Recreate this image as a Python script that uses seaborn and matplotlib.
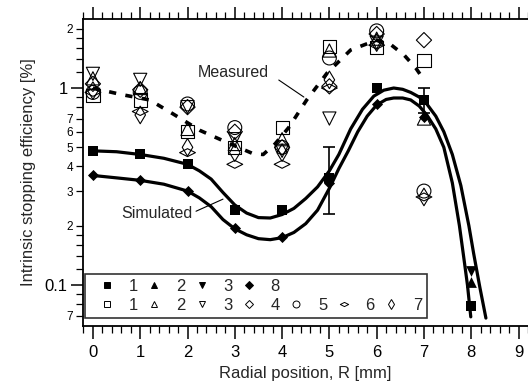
import numpy as np
import pandas as pd
import matplotlib
matplotlib.use("Agg")
import matplotlib.pyplot as plt
import seaborn as sns
from matplotlib.lines import Line2D
from matplotlib.path import Path
from matplotlib.ticker import FixedLocator, FixedFormatter, MultipleLocator

# ---- data -----------------------------------------------------------------
radius = [0, 1, 2, 3, 4, 5, 6, 7]

# measured (open symbols), runs 1..7
meas_1 = [0.92, 0.87, 0.60, 0.50, 0.63, 1.62, 1.60, 1.38]
meas_2 = [1.12, 1.00, 0.62, 0.52, 0.55, 1.55, 1.78, 0.70]
meas_3 = [1.18, 1.10, 0.80, 0.55, 0.48, 0.70, 1.70, np.nan]
meas_4 = [1.05, 0.98, 0.80, 0.60, 0.50, 1.02, 1.88, 1.75]
meas_5 = [0.95, 0.95, 0.83, 0.63, 0.50, 1.42, 1.95, 0.30]
meas_6 = [0.95, 0.76, 0.47, 0.41, 0.41, 1.00, 1.65, 0.28]
meas_7 = [0.97, 0.73, 0.50, 0.47, 0.47, 1.10, 1.70, 0.28]

# simulated (filled symbols)
sim_r = [0, 1, 2, 3, 4, 5, 6, 7, 8]
sim_1 = [0.48, 0.46, 0.41, 0.24, 0.24, 0.35, 1.00, 0.87, 0.078]
sim_8_r = [0, 1, 2, 3, 4, 5, 6, 7]
sim_8 = [0.36, 0.34, 0.30, 0.195, 0.175, 0.33, 0.83, 0.71]
sim_2_r, sim_2 = [8], [0.104]
sim_3_r, sim_3 = [8], [0.118]

# error bars on simulated run 1
err_r = [5, 7]
err_val = [0.35, 0.87]
err_lo = [0.23, 0.75]
err_hi = [0.50, 1.00]

# trend curves
upper_r = [-0.05, 0, 0.5, 1, 1.5, 2, 2.25, 2.5, 2.75, 3.0, 3.25, 3.5, 3.75, 4.0,
           4.25, 4.5, 4.75, 5.0, 5.2, 5.45, 5.7, 5.94, 6.15, 6.36, 6.55, 6.72,
           6.9, 7.06, 7.25, 7.42, 7.6, 7.78, 7.95, 8.05, 8.18, 8.31]
upper_v = [0.48, 0.48, 0.475, 0.46, 0.44, 0.41, 0.38, 0.345, 0.295, 0.255, 0.232,
           0.22, 0.219, 0.228, 0.245, 0.275, 0.315, 0.38, 0.46, 0.62, 0.78, 0.91,
           0.975, 1.0, 0.985, 0.95, 0.90, 0.83, 0.72, 0.60, 0.46, 0.32, 0.20,
           0.145, 0.098, 0.068]
lower_r = [-0.05, 0, 0.5, 1, 1.5, 2, 2.25, 2.5, 2.75, 3.0, 3.25, 3.5, 3.75, 4.0,
           4.25, 4.5, 4.75, 5.0, 5.2, 5.4, 5.6, 5.8, 6.0, 6.2, 6.36, 6.55, 6.72,
           6.9, 7.06, 7.25, 7.42, 7.6, 7.75, 7.84, 7.92, 7.99]
lower_v = [0.36, 0.36, 0.35, 0.34, 0.325, 0.30, 0.277, 0.25, 0.215, 0.193, 0.18,
           0.172, 0.17, 0.174, 0.185, 0.205, 0.24, 0.31, 0.39, 0.48, 0.60, 0.72,
           0.82, 0.875, 0.89, 0.89, 0.87, 0.81, 0.73, 0.62, 0.50, 0.33, 0.20,
           0.139, 0.10, 0.069]
meas_curve_r = [0, 0.57, 1.2, 1.69, 2.26, 2.83, 3.38, 3.6, 3.85, 4.14, 4.52, 4.95,
                5.45, 6.0, 6.3, 6.58, 6.83, 7.0]
meas_curve_v = [1.0, 0.93, 0.87, 0.74, 0.61, 0.53, 0.465, 0.46, 0.52, 0.63, 0.87,
                1.19, 1.56, 1.75, 1.66, 1.47, 1.26, 1.10]

# ---- style ----------------------------------------------------------------
sns.set_theme(style="ticks")
plt.rcParams["font.family"] = ["Liberation Sans", "DejaVu Sans"]
plt.rcParams["axes.linewidth"] = 1.3

fig = plt.figure(figsize=(5.28, 3.89), dpi=100)
ax = fig.add_axes([83 / 528, 1 - 326 / 389, 445 / 528, 307 / 389])
ax.set_yscale("log")

# flat wide diamond for run 6
wide_diamond = Path([(-1, 0), (0, 0.5), (1, 0), (0, -0.5), (-1, 0)],
                    [Path.MOVETO, Path.LINETO, Path.LINETO, Path.LINETO, Path.CLOSEPOLY])

open_series = [
    (meas_1, "s", 90),
    (meas_2, "^", 90),
    (meas_3, "v", 90),
    (meas_4, "D", 60),
    (meas_5, "o", 100),
    (meas_6, wide_diamond, 130),
    (meas_7, "d", 80),
]
for vals, mk, size in open_series:
    sns.scatterplot(x=radius, y=vals, marker=mk, s=size, facecolors="none",
                    edgecolor="black", linewidth=0.8, ax=ax, zorder=3, legend=False)

# curves
sns.lineplot(x=upper_r, y=upper_v, sort=False, estimator=None, color="black",
             lw=2.3, ax=ax, zorder=4)
sns.lineplot(x=lower_r, y=lower_v, sort=False, estimator=None, color="black",
             lw=2.3, ax=ax, zorder=4)
sns.lineplot(x=meas_curve_r, y=meas_curve_v, sort=False, estimator=None,
             color="black", lw=2.6, linestyle=(0, (2.0, 2.6)), ax=ax, zorder=4)

# error bars
ax.errorbar(err_r, err_val,
            yerr=[np.subtract(err_val, err_lo), np.subtract(err_hi, err_val)],
            fmt="none", ecolor="black", elinewidth=1.2, capsize=4, capthick=1.2,
            zorder=5)

# filled symbols
sns.scatterplot(x=sim_r, y=sim_1, marker="s", s=60, color="black", linewidth=0,
                ax=ax, zorder=6, legend=False)
sns.scatterplot(x=sim_8_r, y=sim_8, marker="D", s=32, color="black", linewidth=0,
                ax=ax, zorder=6, legend=False)
sns.scatterplot(x=sim_2_r, y=sim_2, marker="^", s=60, color="black", linewidth=0,
                ax=ax, zorder=6, legend=False)
sns.scatterplot(x=sim_3_r, y=sim_3, marker="v", s=60, color="black", linewidth=0,
                ax=ax, zorder=6, legend=False)

# annotations
ax.text(3.72, 1.2, "Measured", ha="right", va="center", fontsize=11.5)
ax.plot([3.93, 4.46], [1.098, 0.9], color="black", lw=0.8)
ax.text(2.11, 0.232, "Simulated", ha="right", va="center", fontsize=11.5)
ax.plot([2.18, 2.75], [0.237, 0.273], color="black", lw=0.8)

# axes
ax.set_xlim(-0.21, 9.2)
ax.set_ylim(0.062, 2.24)
ax.xaxis.set_major_locator(FixedLocator(range(10)))
ax.xaxis.set_minor_locator(MultipleLocator(0.2))
ax.tick_params(axis="x", which="both", direction="out", top=True, bottom=True,
               labeltop=False, colors="black")
ax.tick_params(axis="x", which="major", length=9, width=1.1, labelsize=12, pad=5)
ax.tick_params(axis="x", which="minor", length=5, width=0.9)

ax.yaxis.set_major_locator(FixedLocator([0.1, 1]))
ax.yaxis.set_major_formatter(FixedFormatter(["0.1", "1"]))
minor_pos = [0.07, 0.08, 0.09, 0.12, 0.14, 0.16, 0.18, 0.2, 0.3, 0.4, 0.5, 0.6,
             0.7, 0.8, 0.9, 1.2, 1.4, 1.6, 1.8, 2.0]
minor_lab = ["7", "", "", "", "", "", "", "2", "3", "4", "5", "6", "7", "", "",
             "", "", "", "", "2"]
ax.yaxis.set_minor_locator(FixedLocator(minor_pos))
ax.yaxis.set_minor_formatter(FixedFormatter(minor_lab))
ax.tick_params(axis="y", which="both", direction="out", left=True, right=False,
               colors="black")
ax.tick_params(axis="y", which="major", length=9, width=1.1, labelsize=12, pad=2)
ax.tick_params(axis="y", which="minor", length=5, width=0.9, labelsize=8.5, pad=2)

ax.spines["right"].set_visible(False)
for s in ("left", "bottom", "top"):
    ax.spines[s].set_color("black")

ax.set_xlabel("Radial position, R [mm]", fontsize=12, labelpad=4)
ax.set_ylabel("Intrinsic stopping efficiency [%]", fontsize=12, labelpad=6)

# legend: filled (simulated) on top row, open (measured) on bottom row
def h(marker, filled, ms=5):
    if marker is None:
        return Line2D([], [], linestyle="none", marker=None)
    return Line2D([], [], linestyle="none", marker=marker, markersize=ms,
                  markerfacecolor="black" if filled else "none",
                  markeredgecolor="black", markeredgewidth=0.7)

top_row = [(h("s", True), "1"), (h("^", True), "2"), (h("v", True), "3"),
           (h("D", True, 4.2), "8"), (h(None, True), ""), (h(None, True), ""),
           (h(None, True), "")]
bottom_row = [(h("s", False), "1"), (h("^", False), "2"), (h("v", False), "3"),
              (h("D", False, 4.2), "4"), (h("o", False), "5"),
              (h(wide_diamond, False, 6), "6"), (h("d", False), "7")]
handles, labels = [], []
for (ht, lt), (hb, lb) in zip(top_row, bottom_row):
    handles += [ht, hb]
    labels += [lt, lb]

leg = ax.legend(handles, labels, ncol=7, loc="lower left",
                bbox_to_anchor=(0.0045, 0.026, 0.7685, 0.166), mode="expand",
                fontsize=12, frameon=True, fancybox=False, borderpad=0.3,
                handlelength=2.0, handletextpad=0.3, columnspacing=0.4,
                labelspacing=0.25, borderaxespad=0)
leg.get_frame().set_edgecolor("black")
leg.get_frame().set_linewidth(1.2)
leg.set_zorder(10)

fig.savefig("out.png", dpi=100)
